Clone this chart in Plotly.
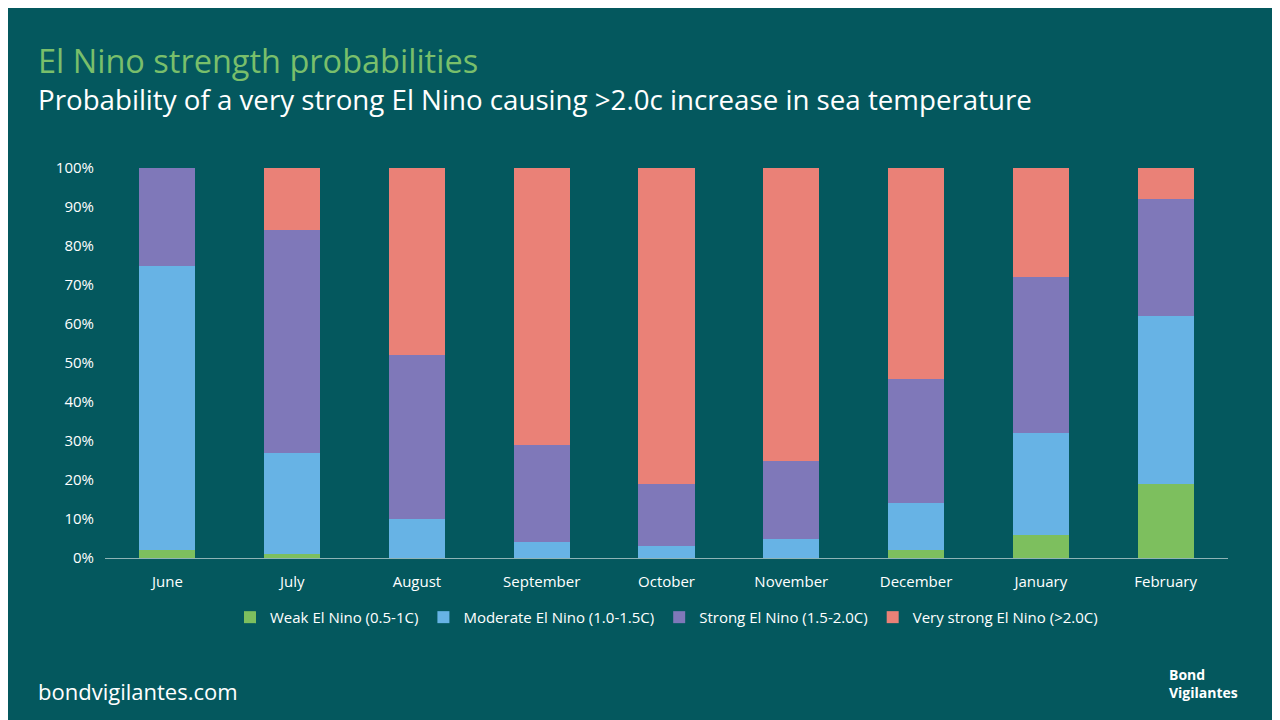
import plotly.graph_objects as go

months = ["June","July","August","September","October","November","December","January","February"]
weak = [2,1,0,0,0,0,2,6,19]
moderate = [73,26,10,4,3,5,12,26,43]
strong = [25,57,42,25,16,20,32,40,30]
very_strong = [0,16,48,71,81,75,54,28,8]

series = [("Weak El Nino (0.5-1C)", weak, "#7DBF5E"),
          ("Moderate El Nino (1.0-1.5C)", moderate, "#67B3E5"),
          ("Strong El Nino (1.5-2.0C)", strong, "#7F78B9"),
          ("Very strong El Nino (>2.0C)", very_strong, "#EA8177")]

fig = go.Figure()
for name, vals, col in series:
    fig.add_bar(x=months, y=vals, name=name, marker_color=col, marker_line_width=0)

bg = "#04585E"
fig.update_layout(
    barmode="stack", bargap=0.55,
    width=1280, height=720, paper_bgcolor=bg, plot_bgcolor=bg,
    font=dict(family="Open Sans", color="white", size=15),
    margin=dict(l=97, r=60, t=160, b=170),
    showlegend=True,
    legend=dict(orientation="h", x=0.5, xanchor="center", y=-0.11, yanchor="top",
                font=dict(size=15), traceorder="normal"),
    yaxis=dict(range=[0,100], dtick=10, ticksuffix="%", showgrid=False, zeroline=False,
               tickfont=dict(size=15), ticklabelstandoff=10),
    xaxis=dict(showline=True, linecolor="#8fb3b5", linewidth=1, tickfont=dict(size=15),
               ticklabelstandoff=10),
)
def px_x(p): return (p - 97) / (1280 - 97 - 60)
def px_y(p): return (560 - p) / 390
fig.add_annotation(text="El Nino strength probabilities", xref="paper", yref="paper",
                   x=px_x(28), y=px_y(62), xanchor="left", yanchor="middle", showarrow=False,
                   font=dict(size=32.5, color="#79BF6B"))
fig.add_annotation(text="Probability of a very strong El Nino causing >2.0c increase in sea temperature",
                   xref="paper", yref="paper", x=px_x(28), y=px_y(101), xanchor="left", yanchor="middle",
                   showarrow=False, font=dict(size=27.7, color="white"))
fig.add_annotation(text="bondvigilantes.com", xref="paper", yref="paper", x=px_x(28), y=px_y(693),
                   xanchor="left", yanchor="middle", showarrow=False,
                   font=dict(size=22, color="white"))
fig.add_annotation(text="<b>Bond<br>Vigilantes</b>", xref="paper", yref="paper", x=px_x(1232), y=px_y(685),
                   xanchor="right", yanchor="middle", showarrow=False, align="left",
                   font=dict(size=14, color="white"))
fig.write_html("out.html")
